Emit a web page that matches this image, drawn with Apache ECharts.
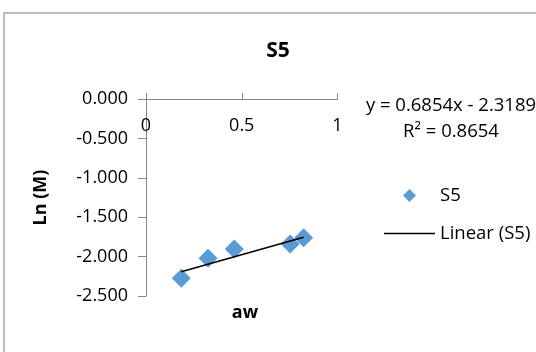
<!DOCTYPE html>
<html>
<head>
<meta charset="utf-8">
<script src="https://cdn.jsdelivr.net/npm/echarts@6/dist/echarts.min.js"></script>
<style>
html,body{margin:0;padding:0;background:#fff;}
#chart{width:536px;height:352px;}
</style>
</head>
<body>
<div id="chart"></div>
<script>
// Data
var seriesName = 'S5';
var trendName = 'Linear (S5)';
var awValues = [0.184, 0.324, 0.461, 0.753, 0.823];
var lnMValues = [-2.275, -2.022, -1.904, -1.840, -1.760];
var trendSlope = 0.6854;
var trendIntercept = -2.3189;
var trendR2 = 0.8654;
var xTickLabels = ['0', '0.5', '1'];
var yTickLabels = ['0.000', '-0.500', '-1.000', '-1.500', '-2.000', '-2.500'];

var FONT = 'Open Sans';
var points = awValues.map(function (x, i) { return [x, lnMValues[i]]; });
var xMin = Math.min.apply(null, awValues), xMax = Math.max.apply(null, awValues);
var trend = [[xMin, trendSlope * xMin + trendIntercept], [xMax, trendSlope * xMax + trendIntercept]];

var chart = echarts.init(document.getElementById('chart'), null, {renderer: 'canvas'});
chart.setOption({
  animation: false,
  backgroundColor: '#ffffff',
  title: {
    text: 'S5', left: 273, top: 36, textAlign: 'center',
    textStyle: {fontFamily: FONT, fontSize: 21, fontWeight: 'bold', color: '#000'}
  },
  grid: {left: 146, top: 99, width: 191.5, height: 197, containLabel: false},
  xAxis: {
    type: 'value', position: 'top', min: 0, max: 1, interval: 0.5,
    axisLine: {onZero: false, lineStyle: {color: '#868686', width: 1}},
    axisTick: {show: true, inside: false, length: 6, lineStyle: {color: '#868686'}},
    axisLabel: {
      inside: true, margin: 18, color: '#000', fontFamily: FONT, fontSize: 18,
      formatter: function (v) { var i = Math.round(v / 0.5); return xTickLabels[i]; }
    },
    splitLine: {show: false}
  },
  yAxis: {
    type: 'value', min: -2.5, max: 0, interval: 0.5,
    name: 'Ln (M)', nameLocation: 'middle', nameGap: 96, nameRotate: 90,
    nameTextStyle: {fontFamily: FONT, fontSize: 18, fontWeight: 'bold', color: '#000'},
    axisLine: {show: true, lineStyle: {color: '#868686', width: 1}},
    axisTick: {show: true, length: 8, lineStyle: {color: '#868686'}},
    axisLabel: {
      margin: 18, color: '#000', fontFamily: FONT, fontSize: 18,
      formatter: function (v) { var i = Math.round(-v / 0.5); return yTickLabels[i]; }
    },
    splitLine: {show: false}
  },
  legend: {
    orient: 'vertical', left: 384, top: 186, padding: 0,
    itemWidth: 51, itemHeight: 13, itemGap: 19, symbolKeepAspect: true,
    textStyle: {fontFamily: FONT, fontSize: 18.5, color: '#000'},
    data: [
      {name: seriesName, icon: 'path://M6,0L12,6L6,12L0,6Z', itemStyle: {color: '#5b9bd5', opacity: 1}},
      {name: trendName, icon: 'path://M0,0H51V1.5H0Z', itemStyle: {color: '#000', borderWidth: 0}}
    ]
  },
  series: [
    {
      name: seriesName, type: 'scatter', data: points, symbol: 'diamond', symbolSize: 19,
      itemStyle: {color: '#5b9bd5', opacity: 1}, z: 2
    },
    {
      name: trendName, type: 'line', data: trend, symbol: 'none', showSymbol: false,
      lineStyle: {color: '#000', width: 1.5}, itemStyle: {color: '#000'}, z: 3
    }
  ],
  graphic: [
    {type: 'rect', shape: {x: 4, y: 13, width: 700, height: 500},
     style: {fill: 'none', stroke: '#a6a6a6', lineWidth: 1.5}, silent: true, z: -1},
    {type: 'text', x: 451, y: 106, style: {
      text: 'y = ' + trendSlope.toFixed(4) + 'x - ' + Math.abs(trendIntercept).toFixed(4),
      fontFamily: FONT, fontSize: 18.5, fill: '#000', textAlign: 'center', textVerticalAlign: 'middle'}},
    {type: 'text', x: 451, y: 132, style: {
      text: 'R² = ' + trendR2.toFixed(4),
      fontFamily: FONT, fontSize: 18.5, fill: '#000', textAlign: 'center', textVerticalAlign: 'middle'}},
    {type: 'text', x: 245, y: 313, style: {
      text: 'aw', fontFamily: FONT, fontSize: 18, fontWeight: 'bold', fill: '#000',
      textAlign: 'center', textVerticalAlign: 'middle'}}
  ]
});
</script>
</body>
</html>
